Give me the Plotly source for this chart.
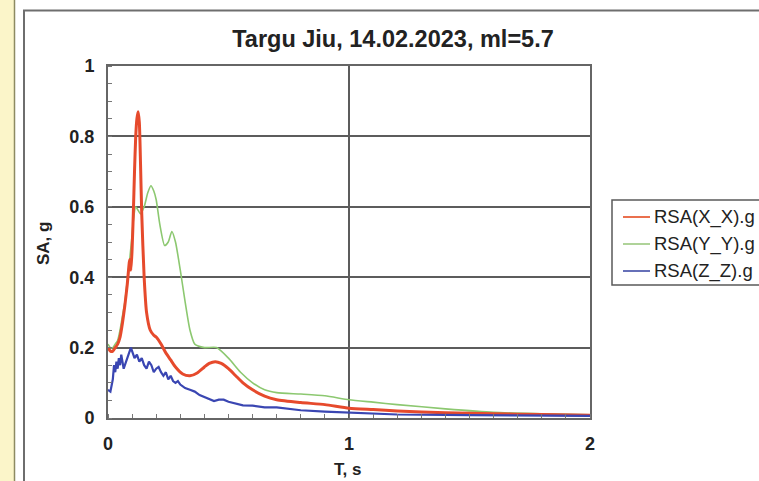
import plotly.graph_objects as go

# ---------------- data ----------------
title_text = "Targu Jiu, 14.02.2023, ml=5.7"
series_names = ["RSA(X_X).g", "RSA(Y_Y).g", "RSA(Z_Z).g"]

t_x = [0.0, 0.01, 0.02, 0.03, 0.04, 0.05, 0.06, 0.07, 0.08, 0.09, 0.095, 0.1, 0.105, 0.11,
       0.115, 0.12, 0.125, 0.13, 0.135, 0.14, 0.15, 0.16, 0.175, 0.19, 0.2, 0.22, 0.24,
       0.26, 0.28, 0.31, 0.34, 0.37, 0.4, 0.42, 0.445, 0.47, 0.5, 0.53, 0.56, 0.6, 0.65,
       0.7, 0.8, 0.9, 1.0, 1.1, 1.2, 1.4, 1.6, 1.8, 2.0]
sa_x = [0.20, 0.19, 0.19, 0.20, 0.21, 0.23, 0.27, 0.32, 0.38, 0.45, 0.42, 0.48, 0.58, 0.70,
        0.80, 0.85, 0.87, 0.84, 0.72, 0.58, 0.40, 0.30, 0.25, 0.235, 0.23, 0.21, 0.185,
        0.165, 0.145, 0.125, 0.12, 0.128, 0.145, 0.155, 0.16, 0.155, 0.14, 0.12, 0.10, 0.08,
        0.062, 0.052, 0.044, 0.038, 0.028, 0.024, 0.02, 0.015, 0.012, 0.01, 0.008]

t_y = [0.0, 0.01, 0.02, 0.03, 0.04, 0.05, 0.06, 0.07, 0.08, 0.09, 0.1, 0.105, 0.115, 0.125,
       0.135, 0.15, 0.165, 0.178, 0.19, 0.2, 0.215, 0.235, 0.25, 0.265, 0.28, 0.3, 0.32,
       0.34, 0.36, 0.4, 0.45, 0.5, 0.55, 0.6, 0.65, 0.7, 0.8, 0.9, 1.0, 1.1, 1.2, 1.4, 1.6,
       1.8, 2.0]
sa_y = [0.21, 0.20, 0.20, 0.21, 0.22, 0.25, 0.29, 0.33, 0.39, 0.45, 0.52, 0.56, 0.60, 0.59,
        0.58, 0.60, 0.64, 0.66, 0.645, 0.62, 0.55, 0.49, 0.50, 0.53, 0.50, 0.42, 0.33,
        0.25, 0.21, 0.20, 0.20, 0.17, 0.13, 0.10, 0.08, 0.072, 0.068, 0.063, 0.052, 0.045,
        0.038, 0.026, 0.016, 0.012, 0.009]

t_z = [0.0, 0.01, 0.02, 0.025, 0.03, 0.035, 0.04, 0.045, 0.05, 0.055, 0.06, 0.065, 0.07,
       0.08, 0.09, 0.095, 0.1, 0.11, 0.12, 0.13, 0.14, 0.15, 0.16, 0.17, 0.18, 0.19, 0.2,
       0.21, 0.22, 0.23, 0.24, 0.25, 0.26, 0.27, 0.28, 0.29, 0.3, 0.32, 0.34, 0.36, 0.38,
       0.4, 0.42, 0.44, 0.46, 0.48, 0.5, 0.53, 0.56, 0.6, 0.65, 0.7, 0.75, 0.8, 0.9, 1.0,
       1.2, 1.5, 2.0]
sa_z = [0.08, 0.075, 0.11, 0.15, 0.13, 0.16, 0.14, 0.17, 0.15, 0.18, 0.16, 0.14, 0.15,
        0.17, 0.19, 0.20, 0.19, 0.17, 0.18, 0.16, 0.17, 0.15, 0.14, 0.16, 0.15, 0.13, 0.14,
        0.145, 0.13, 0.12, 0.13, 0.11, 0.12, 0.105, 0.10, 0.105, 0.095, 0.085, 0.08, 0.075,
        0.065, 0.06, 0.055, 0.048, 0.052, 0.052, 0.046, 0.04, 0.036, 0.035, 0.03, 0.03,
        0.025, 0.022, 0.018, 0.015, 0.01, 0.008, 0.006]

x_ticks = [0, 1, 2]
y_ticks = [0, 0.2, 0.4, 0.6, 0.8, 1]
y_tick_text = ["0", "0.2", "0.4", "0.6", "0.8", "1"]

colors = ["#e64a2c", "#8cc870", "#3a46b2"]
legend_colors = ["#e8603a", "#a6cf8e", "#5560b0"]
widths = [3, 1.6, 2.2]

# ---------------- layout geometry (pixels) ----------------
W, H = 759, 481
L, R, T, B = 108, 590, 66, 418
FONT = "Liberation Sans"


def px(x):
    return (x - L) / (R - L)


def py(y):
    return (B - y) / (B - T)


fig = go.Figure()
for t, s, name, c, w in [(t_y, sa_y, series_names[1], colors[1], widths[1]),
                         (t_x, sa_x, series_names[0], colors[0], widths[0]),
                         (t_z, sa_z, series_names[2], colors[2], widths[2])]:
    fig.add_trace(go.Scatter(x=t, y=s, mode="lines", name=name,
                             line=dict(color=c, width=w,
                                       shape="linear" if name == series_names[2] else "spline",
                                       smoothing=0.6),
                             showlegend=False))

shapes = []
# yellow strip on the left
shapes.append(dict(type="rect", xref="paper", yref="paper", x0=px(-2), x1=px(14.5),
                   y0=py(490), y1=py(-10), fillcolor="#fbf5c9", line=dict(width=0),
                   layer="below"))
shapes.append(dict(type="line", xref="paper", yref="paper", x0=px(14.5), x1=px(14.5),
                   y0=py(490), y1=py(-10), line=dict(color="#8d8a62", width=1.5)))
# outer chart frame
shapes.append(dict(type="rect", xref="paper", yref="paper", x0=px(24), x1=px(800),
                   y0=py(520), y1=py(10.5), fillcolor="rgba(0,0,0,0)",
                   line=dict(color="#6e6e6e", width=2)))
# legend box
lg_x0, lg_y0, lg_y1 = 612, 200, 285
shapes.append(dict(type="rect", xref="paper", yref="paper", x0=px(lg_x0), x1=px(800),
                   y0=py(lg_y1), y1=py(lg_y0), fillcolor="white",
                   line=dict(color="#5a5a5a", width=1.5)))
annotations = []
row_y = [217, 244, 271]
for i in range(3):
    shapes.append(dict(type="line", xref="paper", yref="paper", x0=px(623), x1=px(650),
                       y0=py(row_y[i]), y1=py(row_y[i]),
                       line=dict(color=legend_colors[i], width=1.8)))
    annotations.append(dict(xref="paper", yref="paper", x=px(652), y=py(row_y[i]),
                            text=series_names[i], showarrow=False, xanchor="left",
                            yanchor="middle",
                            font=dict(family=FONT, size=18.5, color="#222")))

# axis titles
annotations.append(dict(xref="paper", yref="paper", x=px(347), y=py(469), text="T, s",
                        showarrow=False, xanchor="center", yanchor="middle",
                        font=dict(family=FONT, size=17, color="#222", weight="bold")))
annotations.append(dict(xref="paper", yref="paper", x=px(44), y=py(244), text="SA, g",
                        showarrow=False, xanchor="center", yanchor="middle", textangle=-90,
                        font=dict(family=FONT, size=17, color="#222", weight="bold")))

axis_common = dict(showgrid=True, gridcolor="#5c5c5c", gridwidth=2, showline=True,
                   linecolor="#666", linewidth=2, mirror=True, zeroline=False,
                   ticks="", tickfont=dict(family=FONT, size=18, color="#222",
                                           weight="bold"),
                   ticklabelstandoff=8)

fig.update_layout(
    width=W, height=H,
    margin=dict(l=L, r=W - R, t=T, b=H - B, autoexpand=False),
    paper_bgcolor="white", plot_bgcolor="white",
    title=dict(text=title_text, x=393 / W, xref="container", xanchor="center",
               y=1 - 39 / H, yanchor="middle",
               font=dict(family=FONT, size=23.5, color="#222", weight="bold")),
    xaxis=dict(range=[0, 2], tickvals=x_ticks, ticktext=[str(v) for v in x_ticks],
               minor=dict(dtick=0.1, tick0=0, ticks="inside", ticklen=4, tickcolor="#777",
                          showgrid=False),
               **axis_common),
    yaxis=dict(range=[0, 1], tickvals=y_ticks, ticktext=y_tick_text,
               minor=dict(dtick=0.05, tick0=0, ticks="inside", ticklen=4, tickcolor="#777",
                          showgrid=False),
               **axis_common),
    shapes=shapes,
    annotations=annotations,
    showlegend=False,
)

fig.write_html("out.html")
